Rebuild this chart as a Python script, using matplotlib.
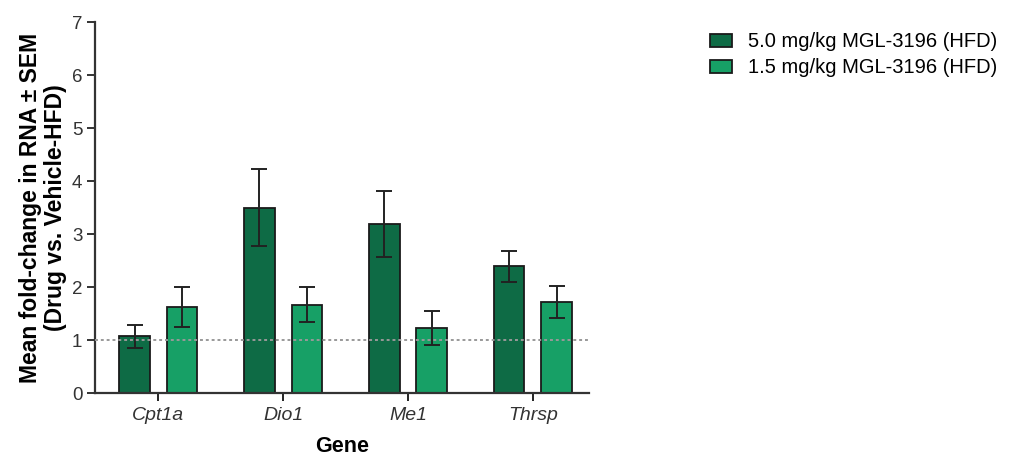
import numpy as np
import matplotlib.pyplot as plt

plt.rcParams['font.family'] = ['Liberation Sans', 'DejaVu Sans']

genes = ['Cpt1a', 'Dio1', 'Me1', 'Thrsp']
high_dose = [1.07, 3.50, 3.19, 2.39]
high_sem = [0.21, 0.73, 0.63, 0.30]
low_dose = [1.63, 1.67, 1.23, 1.72]
low_sem = [0.38, 0.33, 0.32, 0.30]
labels = ['5.0 mg/kg MGL-3196 (HFD)', '1.5 mg/kg MGL-3196 (HFD)']
dark_green = '#0e6b45'
light_green = '#17a066'

fig = plt.figure(figsize=(10.2, 4.63), dpi=100)
ax = fig.add_axes([0.093, 0.151, 0.484, 0.801])

x = np.arange(len(genes))
w = 0.246
off = 0.19
err_kw = dict(ecolor='#222222', elinewidth=1.4, capsize=6, capthick=1.4)
b1 = ax.bar(x - off, high_dose, w, yerr=high_sem, color=dark_green,
            edgecolor='#1a1a1a', linewidth=1.3, error_kw=err_kw, label=labels[0], zorder=2)
b2 = ax.bar(x + off, low_dose, w, yerr=low_sem, color=light_green,
            edgecolor='#1a1a1a', linewidth=1.3, error_kw=err_kw, label=labels[1], zorder=2)

ax.axhline(1, color='#999999', linestyle=(0, (1.5, 1.5)), linewidth=1.4, zorder=3)

ax.set_xlim(-0.508, 3.446)
ax.set_ylim(0, 7)
ax.set_yticks(range(8))
ax.set_xticks(x)
ax.set_xticklabels(genes, fontstyle='italic', fontsize=14, color='#333333')
ax.tick_params(axis='y', labelsize=13.5, colors='#333333', length=6, width=1.4, pad=3)
ax.tick_params(axis='x', length=6, width=1.4, colors='#222222', pad=4)
for lbl in ax.get_xticklabels():
    lbl.set_color('#333333')

for s in ['top', 'right']:
    ax.spines[s].set_visible(False)
for s in ['left', 'bottom']:
    ax.spines[s].set_linewidth(1.6)
    ax.spines[s].set_color('#333333')

ax.set_xlabel('Gene', fontsize=15.5, fontweight='bold', labelpad=9)
ax.set_ylabel('Mean fold-change in RNA ± SEM\n(Drug vs. Vehicle-HFD)', fontsize=16.5,
              fontweight='bold', linespacing=1.1)
ax.yaxis.set_label_coords(-0.056, 0.5)

fig.legend(handles=[b1, b2], labels=labels, loc='upper left', bbox_to_anchor=(0.680, 0.965),
           frameon=False, fontsize=14.5, handlelength=1.1, handleheight=0.6,
           labelspacing=0.35, handletextpad=0.8, borderpad=0.3)

fig.savefig('out.png', dpi=100)
